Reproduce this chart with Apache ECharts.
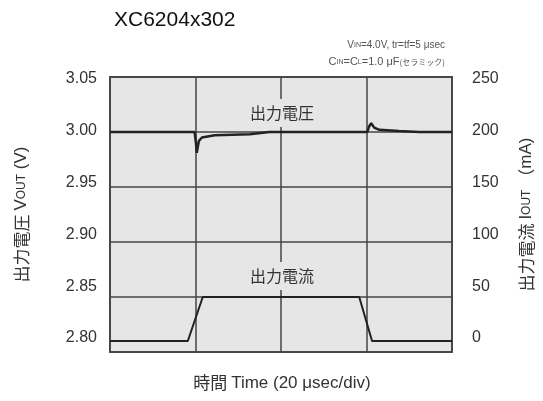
<!DOCTYPE html>
<html>
<head>
<meta charset="utf-8">
<script src="https://cdn.jsdelivr.net/npm/echarts@6/dist/echarts.min.js"></script>
<style>
  html, body { margin: 0; padding: 0; background: #fff; }
  #chart { width: 543px; height: 401px; }
</style>
</head>
<body>
<div id="chart"></div>
<script>
// time in usec (20 usec/div, 4 div)
var voutTime = [0, 19.8, 20.1, 20.3, 20.8, 21.5, 24.5, 32.7, 37.3, 60.2, 60.6, 61.1, 61.8, 63.0, 67.6, 72.3, 80];
var voutVals = [3.000, 3.000, 2.990, 2.981, 2.992, 2.995, 2.997, 2.998, 3.000, 3.000, 3.005, 3.008, 3.004, 3.002, 3.001, 3.000, 3.000];
var ioutTime = [0, 18.2, 21.7, 58.3, 61.3, 80];
var ioutVals = [10, 10, 50, 50, 10, 10];
var voltTicks = [2.80, 3.05, 0.05];
var currTicks = [0, 250, 50];

var FONT = '"Liberation Sans", Arial, "Noto Sans CJK JP", sans-serif';
var JP = '"Noto Sans CJK JP", sans-serif';

var myChart = echarts.init(document.getElementById('chart'));

function pairs(xs, ys) {
  var out = [];
  for (var i = 0; i < xs.length; i++) out.push([xs[i], ys[i]]);
  return out;
}

var nameRich = {
  j: { fontFamily: JP, fontSize: 17, color: '#333' },
  t: { fontFamily: FONT, fontSize: 17, color: '#333' },
  s: { fontFamily: FONT, fontSize: 12, color: '#333' }
};

myChart.setOption({
  animation: false,
  title: {
    text: 'XC6204x302',
    left: 109, top: 5,
    textStyle: { fontFamily: FONT, fontSize: 21, fontWeight: 'normal', color: '#111' }
  },
  grid: [
    { left: 110, right: 90, top: 77, bottom: 49, show: true,
      backgroundColor: '#e6e6e6', borderColor: '#555', borderWidth: 2 },
    { left: 110, right: 90, top: 79, bottom: 63, show: false }
  ],
  xAxis: [
    { type: 'value', gridIndex: 0, min: 0, max: 80, interval: 20,
      axisLine: { show: false }, axisTick: { show: false }, axisLabel: { show: false },
      splitLine: { show: true, lineStyle: { color: '#444', width: 1.5 } } },
    { type: 'value', gridIndex: 1, min: 0, max: 80, show: false }
  ],
  yAxis: [
    { type: 'value', gridIndex: 0, min: voltTicks[0], max: voltTicks[1], interval: voltTicks[2],
      axisLine: { show: false }, axisTick: { show: false }, axisLabel: { show: false },
      splitLine: { show: true, lineStyle: { color: '#444', width: 1.5 } },
      name: '{j|出力電圧 }{t|V}{s|OUT}{t| (V)}', nameLocation: 'middle', nameRotate: 90, nameGap: 80,
      nameTextStyle: { rich: nameRich } },
    { type: 'value', gridIndex: 0, position: 'right', min: currTicks[0], max: currTicks[1], interval: currTicks[2],
      axisLine: { show: false }, axisTick: { show: false }, axisLabel: { show: false },
      splitLine: { show: false },
      name: '{j|出力電流 }{t|I}{s|OUT}{j| （}{t|mA)}', nameLocation: 'middle', nameRotate: 90, nameGap: 66,
      nameTextStyle: { rich: nameRich } },
    { type: 'value', gridIndex: 1, min: voltTicks[0], max: voltTicks[1], interval: voltTicks[2],
      axisLine: { show: false }, axisTick: { show: false }, splitLine: { show: false },
      axisLabel: { margin: 13, fontFamily: FONT, fontSize: 16, color: '#333',
        formatter: function (v) { return v.toFixed(2); } } },
    { type: 'value', gridIndex: 1, position: 'right', min: currTicks[0], max: currTicks[1], interval: currTicks[2],
      axisLine: { show: false }, axisTick: { show: false }, splitLine: { show: false },
      axisLabel: { margin: 19, fontFamily: FONT, fontSize: 16, color: '#333' } }
  ],
  graphic: [
    { type: 'text', x: 282, y: 113, z: 100,
      style: { text: '出力電圧', font: '16px ' + JP, fill: '#333', align: 'center', verticalAlign: 'middle',
        backgroundColor: '#e6e6e6', padding: [6, 4] } },
    { type: 'text', x: 282, y: 276, z: 100,
      style: { text: '出力電流', font: '16px ' + JP, fill: '#333', align: 'center', verticalAlign: 'middle',
        backgroundColor: '#e6e6e6', padding: [6, 4] } },
    { type: 'text', x: 282, y: 383, z: 100,
      style: { text: '{j|時間 }{t|Time (20 μsec/div)}', align: 'center', verticalAlign: 'middle',
        rich: { j: { fontFamily: JP, fontSize: 17, fill: '#333' }, t: { fontFamily: FONT, fontSize: 17, fill: '#333' } } } },
    { type: 'text', x: 445, y: 45, z: 100,
      style: { text: '{t|V}{s|IN}{t|=4.0V, tr=tf=5 μsec}', align: 'right', verticalAlign: 'middle',
        rich: { t: { fontFamily: FONT, fontSize: 10, fill: '#555' }, s: { fontFamily: FONT, fontSize: 7, fill: '#555' } } } },
    { type: 'text', x: 445, y: 62, z: 100,
      style: { text: '{t|C}{s|IN}{t|=C}{s|L}{t|=1.0 μF}{j|(セラミック)}', align: 'right', verticalAlign: 'middle',
        rich: { t: { fontFamily: FONT, fontSize: 11, fill: '#555' }, s: { fontFamily: FONT, fontSize: 7, fill: '#555' },
          j: { fontFamily: JP, fontSize: 8, fill: '#555' } } } }
  ],
  series: [
    { name: 'VOUT', type: 'line', xAxisIndex: 0, yAxisIndex: 0, data: pairs(voutTime, voutVals),
      symbol: 'none', lineStyle: { color: '#222', width: 2.5 }, z: 5 },
    { name: 'IOUT', type: 'line', xAxisIndex: 0, yAxisIndex: 1, data: pairs(ioutTime, ioutVals),
      symbol: 'none', lineStyle: { color: '#222', width: 2 }, z: 5 }
  ]
});
</script>
</body>
</html>
